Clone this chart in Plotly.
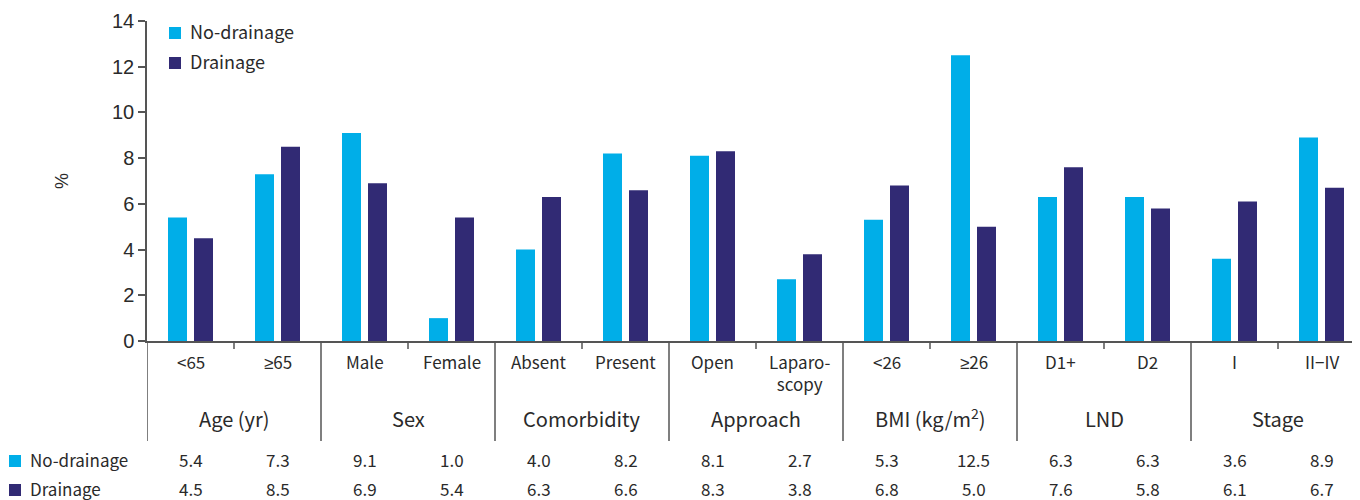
import plotly.graph_objects as go

GE = '<span style="font-family:Liberation Sans">≥</span>'
categories = ["&lt;65", GE + "65", "Male", "Female", "Absent", "Present", "Open",
              "Laparo-<br>scopy", "&lt;26", GE + "26", "D1+", "D2", "I", "II−IV"]
groups = ["Age (yr)", "Sex", "Comorbidity", "Approach", "BMI (kg/m<sup>2</sup>)", "LND", "Stage"]
no_drainage = [5.4, 7.3, 9.1, 1.0, 4.0, 8.2, 8.1, 2.7, 5.3, 12.5, 6.3, 6.3, 3.6, 8.9]
drainage = [4.5, 8.5, 6.9, 5.4, 6.3, 6.6, 8.3, 3.8, 6.8, 5.0, 7.6, 5.8, 6.1, 6.7]
y_ticks = [0, 2, 4, 6, 8, 10, 12, 14]
series_names = ["No-drainage", "Drainage"]

CYAN = "#00AEE8"
NAVY = "#312A74"
TXT = "#2a2a2a"
LINE = "#555555"
FONT = "Noto Sans CJK KR"
NUMFONT = "Liberation Sans"

OFF = 8  # page body margin
W, H = 1360 - OFF, 500 - OFF
# reference-pixel layout
L_REF, T_REF, BOT_REF = 147, 21, 341
L, T = L_REF - OFF, T_REF - OFF
B = H - (BOT_REF - OFF)
PLOT_W = W - L
PLOT_H = H - T - B
CAT_PX = 87.0
x_max = -0.5 + PLOT_W / CAT_PX


def py(p):
    return (BOT_REF - p) / PLOT_H


def px(p):
    return (p - L_REF) / PLOT_W


x = list(range(len(categories)))
fig = go.Figure()
fig.add_bar(x=x, y=no_drainage, width=19 / CAT_PX, offset=-22.5 / CAT_PX,
            marker=dict(color=CYAN, line=dict(width=0)), name=series_names[0], showlegend=False)
fig.add_bar(x=x, y=drainage, width=19 / CAT_PX, offset=3.5 / CAT_PX,
            marker=dict(color=NAVY, line=dict(width=0)), name=series_names[1], showlegend=False)

shapes = []
annotations = []

# small ticks within groups
for g in range(len(groups)):
    shapes.append(dict(type="line", xref="x", yref="paper", x0=2 * g + 0.5, x1=2 * g + 0.5,
                       y0=py(341), y1=py(349), line=dict(color=LINE, width=1.5)))
# group separators
for g in range(len(groups) + 1):
    xv = 2 * g - 0.5
    if xv <= x_max:
        shapes.append(dict(type="line", xref="x", yref="paper", x0=xv, x1=xv,
                           y0=py(341), y1=py(441), line=dict(color=LINE, width=1.5)))

# category labels
for i, c in enumerate(categories):
    annotations.append(dict(x=i, y=py(347), xref="x", yref="paper", text=c, showarrow=False,
                            xanchor="center", yanchor="top",
                            font=dict(family=FONT, size=17, color=TXT)))
# group labels
for g, name in enumerate(groups):
    annotations.append(dict(x=2 * g + 0.5, y=py(418), xref="x", yref="paper", text=name,
                            showarrow=False, xanchor="center", yanchor="middle",
                            font=dict(family=FONT, size=20, color=TXT)))

# table rows
rows = [(series_names[0], no_drainage, CYAN, 461), (series_names[1], drainage, NAVY, 490)]
for name, vals, col, yc in rows:
    shapes.append(dict(type="rect", xref="paper", yref="paper", x0=px(9), x1=px(21),
                       y0=py(yc - 6), y1=py(yc + 6), fillcolor=col, line=dict(width=0)))
    annotations.append(dict(x=px(28), y=py(yc - 2), xref="paper", yref="paper", text=name,
                            showarrow=False, xanchor="left", yanchor="middle",
                            font=dict(family=FONT, size=17, color=TXT)))
    for i, v in enumerate(vals):
        annotations.append(dict(x=i, y=py(yc - 2), xref="x", yref="paper", text=f"{v:.1f}",
                                showarrow=False, xanchor="center", yanchor="middle",
                                font=dict(family=FONT, size=17, color=TXT)))

# manual legend
for k, (name, col) in enumerate([(series_names[0], CYAN), (series_names[1], NAVY)]):
    yc = 33 + 30 * k
    shapes.append(dict(type="rect", xref="paper", yref="paper", x0=px(169), x1=px(181),
                       y0=py(yc - 6), y1=py(yc + 6), fillcolor=col, line=dict(width=0)))
    annotations.append(dict(x=px(188), y=py(yc - 2), xref="paper", yref="paper", text=name,
                            showarrow=False, xanchor="left", yanchor="middle",
                            font=dict(family=FONT, size=18, color=TXT)))

# y title
annotations.append(dict(x=px(62), y=py(181), xref="paper", yref="paper", text="%",
                        showarrow=False, textangle=-90, xanchor="center", yanchor="middle",
                        font=dict(family=NUMFONT, size=18, color=TXT)))

fig.update_layout(
    width=W, height=H,
    margin=dict(l=L, r=0, t=T, b=B, pad=0),
    paper_bgcolor="white", plot_bgcolor="white",
    showlegend=False,
    shapes=shapes, annotations=annotations,
    xaxis=dict(range=[-0.5, x_max], showgrid=False, zeroline=False, showticklabels=False,
               ticks="", showline=True, linecolor=LINE, linewidth=1.5, fixedrange=True),
    yaxis=dict(range=[0, 14], tickvals=y_ticks, showgrid=False, zeroline=False,
               ticks="outside", ticklen=7, tickwidth=1.5, tickcolor=LINE,
               showline=True, linecolor=LINE, linewidth=1.5,
               tickfont=dict(family=NUMFONT, size=20, color=TXT), fixedrange=True),
)

fig.write_html("out.html")
